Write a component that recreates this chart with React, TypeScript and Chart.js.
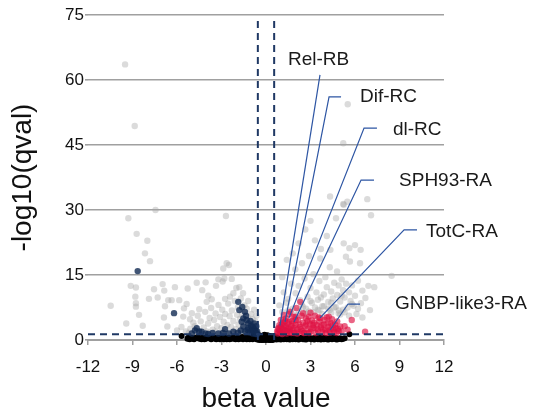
import React, { useEffect, useRef } from 'react';
import { Chart, registerables } from 'chart.js';

Chart.register(...registerables);

const FONT = "'Liberation Sans', Arial, Helvetica, sans-serif";

const xAxisTicks = [-12, -9, -6, -3, 0, 3, 6, 9, 12];
const yAxisTicks = [0, 15, 30, 45, 60, 75];
const betaCutoff = 0.55;
const qCutoff = 1.3;

// not significant (light gray)
const grayPoints: [number, number][] = [
  [-9.5, 63.6], [-8.85, 49.4], [-7.45, 30.0], [-9.28, 28.1], [-8.72, 24.5], [-8.0, 22.9], [-8.16, 20.0],
  [-7.82, 18.2], [-10.47, 7.9], [-9.12, 12.5], [-8.77, 12.1], [-8.81, 10.0], [-8.77, 8.5], [-8.77, 7.7],
  [-8.56, 5.8], [-9.42, 3.8], [-8.31, 3.3], [-7.89, 9.5], [-7.55, 11.7], [-7.3, 9.8], [-6.97, 12.9],
  [-6.86, 11.4], [-6.81, 7.8], [-6.59, 9.2], [-6.36, 9.2], [-6.14, 12.2], [-6.88, 5.2], [-6.65, 3.1],
  [-5.85, 9.2], [-5.28, 11.9], [-5.53, 7.3], [-5.35, 8.3], [-5.58, 5.4], [-5.12, 4.8], [-4.9, 4.0],
  [-4.67, 13.2], [-4.07, 13.3], [-4.3, 11.5], [-3.89, 10.2], [-4.0, 8.8], [-3.66, 9.4], [-3.37, 12.5],
  [-3.21, 14.0], [-2.92, 13.5], [-2.81, 14.2], [-2.7, 28.6], [-2.88, 16.5], [-2.65, 17.7], [-2.5, 17.3],
  [-2.31, 14.1], [-2.76, 9.5], [-2.43, 10.0], [-1.8, 12.2],
  [-6.0, 2.2], [-5.7, 3.0], [-5.4, 2.0], [-5.1, 2.6], [-5.0, 6.2], [-4.8, 3.2], [-4.6, 5.6], [-4.5, 7.1],
  [-4.4, 4.3], [-4.2, 2.9], [-4.1, 6.5], [-3.9, 3.8], [-3.8, 5.1], [-3.7, 7.4], [-3.6, 2.4], [-3.5, 4.6],
  [-3.4, 6.1], [-3.3, 3.2], [-3.2, 8.1], [-3.1, 5.3], [-3.0, 2.8], [-2.95, 7.0], [-2.85, 4.2], [-2.75, 6.0],
  [-2.6, 3.5], [-2.55, 8.4], [-2.45, 5.5], [-2.35, 3.0], [-2.3, 6.8], [-2.2, 4.4], [-2.1, 9.0], [-2.05, 2.5],
  [-1.95, 5.8], [-1.9, 7.5], [-1.85, 3.6], [-1.75, 4.9], [-1.7, 2.4], [-1.6, 6.2], [-1.5, 3.4], [-1.45, 8.0],
  [-1.35, 4.0], [-1.25, 5.4], [-1.15, 3.0], [-1.05, 2.2], [-0.95, 3.6], [-0.85, 2.6], [-0.75, 1.8], [-0.7, 2.9],
  [-4.7, 1.8], [-4.0, 2.0], [-3.4, 1.9], [-2.8, 2.0], [-2.2, 1.8], [-1.6, 1.7], [-5.2, 1.6], [-4.4, 1.5],
  [-3.8, 1.7], [-3.0, 1.6], [-2.5, 1.5], [-1.9, 1.6], [-1.3, 1.5],
  [-2.2, 10.8], [-2.0, 12.0], [-1.7, 9.6], [-1.55, 10.8], [-1.3, 7.2], [-1.2, 9.0], [-1.0, 6.0],
  [-0.9, 4.8], [-0.8, 7.0], [-0.7, 4.2], [-0.65, 5.6],
  [5.51, 54.4], [5.21, 45.4], [4.32, 33.1], [5.21, 31.4], [5.48, 31.9], [6.83, 32.5], [5.24, 31.2],
  [4.72, 28.1], [2.65, 25.5], [5.24, 22.3], [4.34, 20.8], [5.62, 21.2], [3.66, 18.8], [2.43, 17.7],
  [1.98, 16.3], [4.79, 15.8], [7.08, 28.8], [6.0, 21.9], [6.38, 20.8], [5.39, 19.2], [5.66, 18.1],
  [6.34, 17.7], [8.47, 14.8], [7.3, 12.2], [7.01, 6.9],
  [1.2, 11.0], [1.5, 9.5], [1.7, 13.0], [2.0, 10.8], [2.2, 12.5], [2.4, 8.2], [2.6, 14.2], [2.8, 10.0],
  [3.0, 12.0], [3.1, 8.6], [3.2, 15.2], [3.4, 11.0], [3.5, 9.3], [3.6, 13.6], [3.8, 7.8], [3.9, 10.5],
  [4.0, 14.5], [4.1, 12.2], [4.2, 8.8], [4.3, 16.8], [4.4, 11.2], [4.5, 9.6], [4.6, 13.2], [4.7, 7.6],
  [4.8, 10.4], [4.9, 12.6], [5.0, 8.9], [5.1, 14.0], [5.2, 11.5], [5.3, 9.8], [5.4, 13.0], [5.5, 7.5],
  [5.6, 11.0], [5.7, 9.0], [5.8, 12.6], [5.9, 7.9], [6.0, 10.2], [6.2, 13.7], [6.4, 8.5], [6.5, 11.4],
  [6.7, 9.7], [6.9, 12.5], [6.1, 6.0], [5.6, 5.6], [5.0, 5.9], [4.4, 6.3], [3.8, 6.0], [3.2, 6.4],
  [2.6, 6.1], [2.0, 5.8], [1.5, 6.8], [1.2, 4.8],
  [1.4, 18.5], [1.8, 20.0], [2.2, 22.3], [2.9, 19.4], [3.3, 23.0], [3.7, 21.0], [4.1, 24.0], [3.0, 27.5],
  [1.1, 14.5], [0.9, 8.0], [2.7, 7.2], [3.5, 7.0], [4.2, 7.3], [4.9, 6.8], [5.3, 6.4], [6.5, 5.2],
  [2.2, 6.8], [2.5, 7.6], [2.9, 6.6], [3.3, 7.5], [3.6, 6.8], [3.9, 7.8], [4.3, 6.9], [4.6, 7.5],
  [4.9, 6.2], [5.2, 7.0], [1.8, 7.2], [2.3, 9.2], [3.0, 9.0], [3.7, 9.8], [4.4, 8.6], [5.1, 10.2],
  [5.8, 8.3], [6.2, 7.2], [1.4, 8.6], [1.1, 6.5],
];

// significant, negative beta (navy)
const downPoints: [number, number][] = [
  [-8.65, 15.9], [-6.2, 6.2], [-1.87, 8.8], [-1.42, 6.5], [-1.8, 6.9], [-1.53, 5.0], [-1.3, 4.6],
  [-1.64, 4.2], [-1.53, 3.1], [-1.19, 2.7], [-0.96, 2.2], [-0.74, 1.9], [-0.63, 1.5], [-4.67, 2.7],
  [-4.79, 2.2], [-4.34, 1.9], [-3.21, 1.5], [-2.76, 2.5], [-2.2, 1.9], [-4.07, 1.5], [-3.6, 1.6],
  [-2.5, 1.5], [-1.9, 1.7], [-1.4, 2.0], [-1.1, 1.8], [-0.9, 1.5], [-0.8, 2.6], [-1.0, 3.3],
  [-5.0, 1.5], [-1.7, 2.2], [-1.25, 2.3], [-0.7, 1.4], [-4.5, 2.0], [-2.9, 1.6], [-3.9, 1.4],
  [-1.6, 7.6], [-1.35, 5.6], [-1.2, 3.8], [-1.05, 4.4], [-0.9, 3.0], [-0.8, 3.8], [-0.7, 2.4],
  [-0.65, 3.2], [-0.75, 1.6], [-0.85, 2.0], [-0.6, 2.0], [-0.6, 1.4],
];

// significant, positive beta (crimson)
const upPoints: [number, number][] = [
  [0.8, 1.5], [0.9, 2.2], [1.0, 3.0], [1.0, 1.6], [1.1, 2.6], [1.15, 4.0], [1.2, 1.8], [1.25, 3.3],
  [1.3, 2.2], [1.35, 5.0], [1.4, 1.5], [1.45, 3.8], [1.5, 2.7], [1.55, 6.0], [1.6, 1.9], [1.64, 6.5],
  [1.7, 3.2], [1.75, 4.4], [1.8, 2.3], [1.85, 5.3], [1.9, 1.6], [1.98, 5.4], [2.0, 3.5], [2.1, 2.4],
  [2.15, 4.6], [2.2, 1.8], [2.31, 8.8], [2.3, 3.0], [2.4, 5.6], [2.45, 2.1], [2.5, 4.0], [2.6, 1.7],
  [2.65, 3.2], [2.7, 5.0], [2.8, 2.5], [2.88, 5.4], [2.95, 3.8], [3.0, 1.9], [3.1, 4.5], [3.2, 2.8],
  [3.3, 5.6], [3.35, 1.6], [3.4, 3.5], [3.5, 2.2], [3.6, 4.2], [3.66, 5.0], [3.7, 2.9], [3.8, 1.8],
  [3.9, 3.6], [4.0, 2.4], [4.1, 5.2], [4.2, 3.0], [4.23, 5.4], [4.3, 1.7], [4.35, 4.0], [4.4, 2.6],
  [4.5, 3.4], [4.6, 1.9], [4.7, 2.8], [4.8, 4.3], [4.9, 2.1], [5.0, 3.1], [5.78, 4.6], [6.68, 1.9],
  [2.05, 7.4], [3.0, 6.3], [1.2, 5.8], [0.85, 2.8], [0.95, 1.9], [1.05, 3.6], [1.3, 4.4], [1.6, 2.6],
  [0.75, 1.9], [0.8, 2.5], [0.9, 3.4], [1.0, 4.6], [1.1, 1.4], [1.2, 2.4], [1.35, 3.0], [1.45, 2.0],
  [1.55, 4.2], [1.7, 1.6], [1.8, 3.8], [1.9, 2.8], [2.0, 4.6], [2.1, 1.5], [2.25, 3.6], [2.35, 2.5],
  [2.5, 6.2], [2.55, 1.6], [2.7, 3.6], [2.8, 4.4], [2.9, 1.6], [3.05, 2.6], [3.15, 3.4], [3.25, 4.0],
  [3.45, 2.6], [3.55, 5.2], [3.75, 3.4], [3.85, 2.4], [3.95, 4.6], [4.05, 1.6], [4.15, 3.8], [4.25, 2.2],
  [4.45, 4.8], [4.55, 2.4], [4.65, 3.6], [4.75, 1.6], [4.85, 2.6], [5.1, 2.0], [5.3, 3.2], [5.5, 2.4],
];

// below q cutoff (black)
const nsPoints: [number, number][] = [
  [-5.69, 0.9], [-5.3, 0.3], [-5.0, 0.5], [-4.85, 0.2], [-4.7, 0.6], [-4.5, 0.3], [-4.3, 0.5], [-4.15, 0.2],
  [-4.0, 0.7], [-3.85, 0.4], [-3.7, 0.2], [-3.55, 0.6], [-3.4, 0.3], [-3.25, 0.5], [-3.1, 0.2], [-2.95, 0.7],
  [-2.8, 0.4], [-2.65, 0.2], [-2.5, 0.5], [-2.35, 0.3], [-2.2, 0.6], [-2.05, 0.2], [-1.9, 0.5], [-1.75, 0.3],
  [-1.6, 0.7], [-1.45, 0.4], [-1.3, 0.2], [-1.2, 0.6], [-1.05, 0.9], [-0.95, 0.4], [-0.85, 0.7], [-0.75, 1.0],
  [-0.65, 0.3], [-0.55, 0.8], [-0.45, 1.1], [-0.4, 0.2], [-0.35, 0.6], [-0.25, 1.0], [-0.2, 0.0], [-0.15, 0.4],
  [-0.1, 0.8], [-0.05, 0.1], [0.0, 0.5], [0.05, 1.0], [0.1, 0.2], [0.15, 0.7], [0.2, 0.0], [0.25, 0.4],
  [0.3, 0.9], [0.35, 0.1], [0.4, 0.6], [0.5, 0.2], [0.55, 0.9], [0.65, 0.4], [0.75, 0.8], [0.85, 0.2],
  [0.95, 0.6], [1.1, 0.3], [1.25, 0.7], [1.4, 0.2], [1.55, 0.5], [1.7, 0.3], [1.85, 0.6], [2.0, 0.2],
  [2.15, 0.5], [2.3, 0.3], [2.45, 0.6], [2.6, 0.2], [2.75, 0.4], [2.9, 0.6], [3.05, 0.2], [3.2, 0.4],
  [3.35, 0.6], [3.5, 0.2], [3.65, 0.5], [3.8, 0.3], [3.95, 0.5], [4.1, 0.2], [4.25, 0.4], [4.4, 0.6],
  [4.55, 0.3], [4.7, 0.5], [4.85, 0.2], [5.0, 0.4], [5.2, 0.3], [5.62, 1.35],
  [-5.25, 0.5], [-5.15, 0.2], [-4.95, 0.3], [-4.75, 0.4], [-4.55, 0.5], [-4.35, 0.2], [-4.25, 0.4],
  [-4.05, 0.3], [-3.95, 0.5], [-3.75, 0.4], [-3.65, 0.3], [-3.45, 0.5], [-3.35, 0.2], [-3.15, 0.4],
  [-3.05, 0.5], [-2.85, 0.2], [-2.75, 0.5], [-2.55, 0.3], [-2.45, 0.2], [-2.25, 0.4], [-2.15, 0.3],
  [-1.95, 0.3], [-1.85, 0.2], [-1.65, 0.4], [-1.55, 0.2], [-1.35, 0.5], [-1.25, 0.3], [-1.1, 0.2],
  [-1.0, 0.5], [-0.9, 0.2], [-0.8, 0.4], [-0.7, 0.6], [-0.6, 0.1], [-0.5, 0.5], [-0.3, 0.3], [-0.12, 0.2],
  [0.08, 0.6], [0.22, 0.3], [0.45, 0.3], [0.6, 0.6], [0.7, 0.1], [0.8, 0.5], [0.9, 0.3], [1.0, 0.1],
  [1.05, 0.5], [1.2, 0.2], [1.3, 0.4], [1.45, 0.5], [1.6, 0.1], [1.65, 0.4], [1.8, 0.2], [1.95, 0.4],
  [2.05, 0.5], [2.2, 0.1], [2.35, 0.4], [2.5, 0.2], [2.55, 0.5], [2.7, 0.1], [2.85, 0.3], [2.95, 0.4],
  [3.1, 0.3], [3.25, 0.1], [3.4, 0.4], [3.55, 0.3], [3.7, 0.1], [3.85, 0.4], [3.9, 0.2], [4.05, 0.4],
  [4.2, 0.1], [4.35, 0.3], [4.45, 0.2], [4.6, 0.4], [4.75, 0.1], [4.9, 0.3], [5.1, 0.2], [5.3, 0.4],
  [-0.45, 0.0], [-0.3, 0.0], [0.0, 0.0], [0.3, 0.0], [0.45, 0.0], [-0.1, 1.2], [0.1, 1.1],
];

// labelled genes
const geneNames = ['Rel-RB', 'Dif-RC', 'dl-RC', 'SPH93-RA', 'TotC-RA', 'GNBP-like3-RA'];
const geneBeta = [0.94, 1.28, 1.55, 1.89, 3.64, 4.32];
const geneQ = [3.3, 4.2, 5.1, 4.15, 5.1, 2.3];
const elbowX = [3.64, 4.25, 6.61, 6.41, 9.31, 5.53];
const elbowY = [61.2, 56.1, 48.9, 36.9, 25.4, 8.3];
const tailX = [3.64, 5.06, 7.48, 7.28, 10.18, 6.34];
const labelX = [1.48, 6.34, 8.56, 8.97, 10.79, 8.7];
const labelY = [64.6, 56.1, 48.5, 36.7, 24.9, 8.3];

const toXY = (arr: [number, number][]) => arr.map(([x, y]) => ({ x, y }));

const labelPlugin = {
  id: 'geneLabels',
  afterDatasetsDraw(chart: any) {
    const { ctx, scales } = chart;
    const xs = scales.x;
    const ys = scales.y;
    ctx.save();
    ctx.font = `19px ${FONT}`;
    ctx.fillStyle = '#1a1a1a';
    ctx.textAlign = 'left';
    ctx.textBaseline = 'middle';
    geneNames.forEach((name, i) => {
      ctx.fillText(name, xs.getPixelForValue(labelX[i]), ys.getPixelForValue(labelY[i]));
    });
    ctx.restore();
  },
};

export default function App() {
  const ref = useRef<HTMLCanvasElement>(null);

  useEffect(() => {
    const leaderSets = geneNames.map((name, i) => ({
      label: name,
      data: [
        { x: tailX[i], y: elbowY[i] },
        { x: elbowX[i], y: elbowY[i] },
        { x: geneBeta[i], y: geneQ[i] },
      ],
      showLine: true,
      borderColor: '#2d55a3',
      borderWidth: 1.2,
      pointRadius: 0,
      clip: false as any,
    }));

    const dashStyle = {
      showLine: true,
      borderColor: '#1f3864',
      borderWidth: 2,
      borderDash: [7, 5],
      pointRadius: 0,
      clip: false as any,
    };

    const chart = new Chart(ref.current as HTMLCanvasElement, {
      type: 'scatter',
      data: {
        datasets: [
          ...leaderSets,
          { label: 'vneg', data: [{ x: -betaCutoff, y: 0 }, { x: -betaCutoff, y: 74 }], ...dashStyle },
          { label: 'vpos', data: [{ x: betaCutoff, y: 0 }, { x: betaCutoff, y: 74 }], ...dashStyle },
          { label: 'hq', data: [{ x: -12, y: qCutoff }, { x: 12, y: qCutoff }], ...dashStyle },
          {
            label: 'up',
            data: toXY(upPoints),
            backgroundColor: 'rgba(222,18,68,0.65)',
            borderWidth: 0,
            pointRadius: 3.2,
            clip: false as any,
          },
          {
            label: 'down',
            data: toXY(downPoints),
            backgroundColor: 'rgba(18,42,82,0.8)',
            borderWidth: 0,
            pointRadius: 3.2,
            clip: false as any,
          },
          {
            label: 'ns',
            data: toXY(nsPoints),
            backgroundColor: '#000000',
            borderWidth: 0,
            pointRadius: 3,
            clip: false as any,
          },
          {
            label: 'gray',
            data: toXY(grayPoints),
            backgroundColor: 'rgba(165,165,165,0.4)',
            borderWidth: 0,
            pointRadius: 3.2,
            clip: false as any,
          },
        ],
      },
      options: {
        responsive: false,
        animation: false,
        events: [],
        layout: { padding: { top: 15, right: 89, left: 0, bottom: 0 } },
        plugins: {
          legend: { display: false },
          tooltip: { enabled: false },
        },
        scales: {
          x: {
            type: 'linear',
            min: -12,
            max: 12,
            afterBuildTicks: (s: any) => {
              s.ticks = xAxisTicks.map((v) => ({ value: v }));
            },
            afterFit: (s: any) => {
              s.height = 78;
            },
            ticks: {
              font: { family: FONT, size: 17 },
              color: '#111',
              padding: 12,
              maxRotation: 0,
              autoSkip: false,
            },
            grid: {
              drawOnChartArea: false,
              drawTicks: true,
              tickLength: 5,
              color: '#a0a0a0',
              lineWidth: 1.5,
            },
            border: { display: true, color: '#a0a0a0', width: 2 },
            title: {
              display: true,
              text: 'beta value',
              font: { family: FONT, size: 28 },
              color: '#111',
              padding: { top: 0, bottom: 2 },
            },
          },
          y: {
            type: 'linear',
            min: 0,
            max: 75,
            afterBuildTicks: (s: any) => {
              s.ticks = yAxisTicks.map((v) => ({ value: v }));
            },
            afterFit: (s: any) => {
              s.width = 88;
            },
            ticks: {
              font: { family: FONT, size: 17 },
              color: '#111',
              padding: 1,
            },
            grid: {
              color: '#a0a0a0',
              lineWidth: 1.6,
              tickLength: 3,
              drawTicks: true,
            },
            border: { display: false },
            title: {
              display: true,
              text: '-log10(qval)',
              font: { family: FONT, size: 28 },
              color: '#111',
              padding: { top: 6, bottom: 0 },
            },
          },
        },
      },
      plugins: [labelPlugin],
    } as any);

    return () => chart.destroy();
  }, []);

  return (
    <div style={{ position: 'absolute', left: 0, top: 0, width: 533, height: 418 }}>
      <canvas ref={ref} width={533} height={418} style={{ display: 'block' }} />
    </div>
  );
}
